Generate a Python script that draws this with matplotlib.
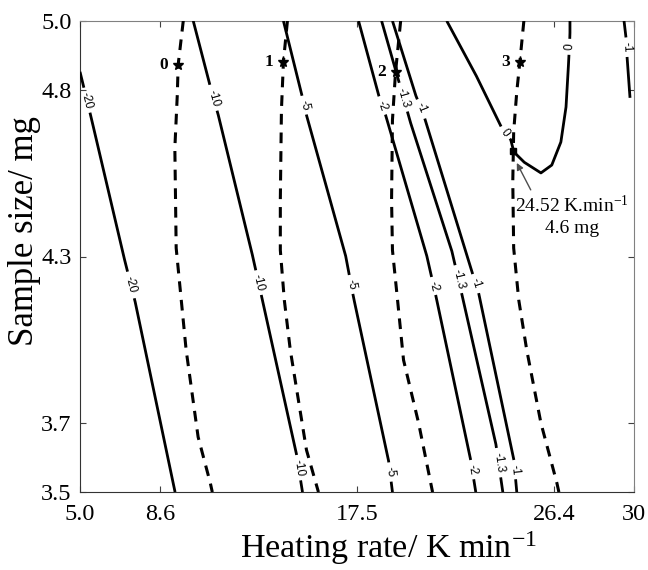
import numpy as np
import matplotlib
matplotlib.use("Agg")
import matplotlib.pyplot as plt

plt.rcParams['font.family'] = ['Liberation Serif', 'DejaVu Serif']
plt.rcParams['mathtext.fontset'] = 'custom'
plt.rcParams['mathtext.rm'] = 'Liberation Serif'
plt.rcParams['mathtext.it'] = 'Liberation Serif:italic'
plt.rcParams['mathtext.bf'] = 'Liberation Serif:bold'

# design: coded levels -alpha, -1, 0, 1, alpha
rate_ticks = [5.0, 8.6, 17.5, 26.4, 30.0]
rate_tick_labels = ['5.0', '8.6', '17.5', '26.4', '30']
size_center = 4.25
size_step = 0.55
size_alpha = 1.414
size_tick_labels = ['3.5', '3.7', '4.3', '4.8', '5.0']

# contour lines (heating rate K/min, sample size mg)
rate_m20 = [5.00, 5.50, 6.94, 7.49, 9.29]
size_m20 = [4.86, 4.71, 4.26, 4.10, 3.472]

rate_m10 = [10.11, 10.92, 11.24, 12.73, 13.18, 14.76, 15.04]
size_m10 = [5.028, 4.800, 4.717, 4.271, 4.123, 3.601, 3.472]

rate_m5 = [14.18, 14.99, 15.22, 16.98, 17.34, 18.92, 19.10]
size_m5 = [5.028, 4.790, 4.717, 4.255, 4.116, 3.578, 3.472]

rate_m2 = [17.57, 18.47, 18.79, 20.64, 21.05, 22.63, 22.86]
size_m2 = [5.028, 4.784, 4.717, 4.255, 4.123, 3.578, 3.472]

rate_m13 = [18.61, 19.47, 19.92, 21.77, 22.22, 23.76, 24.08]
size_m13 = [5.028, 4.807, 4.691, 4.271, 4.129, 3.634, 3.472]

rate_m1 = [19.10, 20.14, 20.51, 22.45, 22.99, 24.58, 24.71]
size_m1 = [5.028, 4.784, 4.717, 4.255, 4.129, 3.578, 3.472]

rate_zero = [21.55, 22.86, 24.03, 24.44, 24.58, 25.03, 25.80, 26.29, 26.70, 26.93, 27.02, 27.11, 27.11]
size_zero = [5.028, 4.850, 4.675, 4.635, 4.595, 4.562, 4.526, 4.552, 4.628, 4.741, 4.850, 4.982, 5.028]

rate_m1b = [29.55, 29.64, 29.68, 29.82]
size_m1b = [5.028, 4.972, 4.916, 4.774]

# dashed contours 0..3
rate_d0 = [9.66, 9.43, 9.39, 9.28, 9.34, 9.79, 10.33, 10.88, 10.97]
size_d0 = [5.028, 4.883, 4.783, 4.608, 4.278, 3.941, 3.654, 3.502, 3.472]

rate_d1 = [14.36, 14.18, 14.09, 14.04, 14.04, 14.22, 14.49, 15.22, 15.76]
size_d1 = [5.028, 4.893, 4.734, 4.437, 4.271, 4.106, 3.941, 3.611, 3.472]

rate_d2 = [19.47, 19.24, 19.10, 19.06, 19.10, 19.33, 19.60, 20.28, 20.91]
size_d2 = [5.028, 4.860, 4.701, 4.437, 4.271, 4.106, 3.908, 3.700, 3.472]

rate_d3 = [25.03, 24.85, 24.71, 24.57, 24.53, 24.57, 24.80, 25.16, 25.80, 26.52, 26.61]
size_d3 = [5.028, 4.893, 4.794, 4.662, 4.497, 4.278, 4.106, 3.941, 3.700, 3.502, 3.472]

star_rate = [9.43, 14.18, 19.24, 24.85]
star_size = [4.883, 4.893, 4.860, 4.893]
star_names = ['0', '1', '2', '3']

opt_rate = 24.52
opt_size = 4.6

fig = plt.figure(figsize=(6.48, 5.70), dpi=100)
ax = fig.add_axes([80 / 648, 1 - 492 / 570, 554 / 648, 471 / 570])
size_lo = size_center - size_alpha * size_step
size_hi = size_center + size_alpha * size_step
ax.set_xlim(rate_ticks[0], rate_ticks[-1])
ax.set_ylim(size_lo, size_hi)
renderer = fig.canvas.get_renderer()


def draw_contour(xs, ys, text, spots):
    xs = np.asarray(xs, float)
    ys = np.asarray(ys, float)
    dx, dy = [], []
    for i in range(len(xs) - 1):
        t = np.linspace(0, 1, 40, endpoint=False)
        dx.append(xs[i] + t * (xs[i + 1] - xs[i]))
        dy.append(ys[i] + t * (ys[i + 1] - ys[i]))
    dx.append([xs[-1]])
    dy.append([ys[-1]])
    dx = np.concatenate(dx)
    dy = np.concatenate(dy)
    pts = ax.transData.transform(np.column_stack([dx, dy]))
    s = np.concatenate([[0], np.cumsum(np.hypot(*np.diff(pts, axis=0).T))])
    keep = np.ones(len(s), bool)
    for lx, ly in spots:
        p = ax.transData.transform((lx, ly))
        k = np.argmin(np.hypot(pts[:, 0] - p[0], pts[:, 1] - p[1]))
        k0, k1 = max(k - 6, 0), min(k + 6, len(pts) - 1)
        d = pts[k1] - pts[k0]
        ang = np.degrees(np.arctan2(d[1], d[0]))
        if ang > 90:
            ang -= 180
        if ang < -90:
            ang += 180
        lab = ax.text(dx[k], dy[k], text, ha='center', va='center',
                      fontsize=8.5, family='Liberation Sans',
                      rotation_mode='anchor', zorder=5)
        w = lab.get_window_extent(renderer).width
        lab.set_rotation(ang)
        keep &= np.abs(s - s[k]) > w / 2 + 4
    ax.plot(np.where(keep, dx, np.nan), np.where(keep, dy, np.nan),
            color='black', lw=2.0, solid_capstyle='butt', zorder=3)


draw_contour(rate_m20, size_m20, '-20', [(5.3, 4.767), (7.3, 4.156)])
draw_contour(rate_m10, size_m10, '-10', [(11.06, 4.774), (13.00, 4.162), (14.86, 3.554)])
draw_contour(rate_m5, size_m5, '-5', [(15.08, 4.750), (17.12, 4.156), (18.92, 3.538)])
draw_contour(rate_m2, size_m2, '-2', [(18.56, 4.747), (20.78, 4.149), (22.63, 3.545)])
draw_contour(rate_m13, size_m13, '-1.3', [(19.60, 4.774), (21.95, 4.172), (23.81, 3.567)])
draw_contour(rate_m1, size_m1, '-1', [(20.37, 4.740), (22.86, 4.162), (24.58, 3.545)])
draw_contour(rate_zero, size_zero, '0', [(24.12, 4.655), (27.11, 4.942)])
draw_contour(rate_m1b, size_m1b, '-1', [(29.68, 4.942)])

for xs, ys in [(rate_d0, size_d0), (rate_d1, size_d1), (rate_d2, size_d2), (rate_d3, size_d3)]:
    ax.plot(xs, ys, color='black', lw=2.2, ls=(0, (3.5, 2.6)), zorder=3)

ax.plot(star_rate, star_size, '*', color='black', ms=8, zorder=6)
for r, sz, name in zip(star_rate, star_size, star_names):
    ax.annotate(name, (r, sz), xytext=(-7, 0), textcoords='offset points',
                ha='right', va='center', fontsize=12.5, fontweight='bold', zorder=6)

ax.plot([opt_rate], [opt_size], 's', color='black', ms=5, zorder=6)
ax.annotate('', xy=(24.71, 4.559), xytext=(25.34, 4.470),
            arrowprops=dict(arrowstyle='-|>', color='0.3', lw=1.0,
                            mutation_scale=10, shrinkA=0, shrinkB=0), zorder=6)
ax.text(27.2, 4.385, '%.2f K.min$^{-1}$\n%.1f mg' % (opt_rate, opt_size),
        ha='center', va='center', multialignment='center', fontsize=14,
        linespacing=1.3, zorder=6)

ax.set_xticks(rate_ticks)
ax.set_xticklabels(rate_tick_labels)
size_ticks = size_center + size_step * np.array([-size_alpha, -1, 0, 1, size_alpha])
ax.set_yticks(size_ticks)
ax.set_yticklabels(size_tick_labels)
ax.tick_params(direction='in', top=True, right=True, length=4, width=0.8,
               labelsize=17.5, colors='0.25', labelcolor='black')
ax.tick_params(axis='x', pad=9)
ax.tick_params(axis='y', pad=6)
for side in ['top', 'right']:
    ax.spines[side].set_color('0.5')
for side in ['left', 'bottom']:
    ax.spines[side].set_color('0.2')

ax.set_xlabel('Heating rate/ K min$^{-1}$', fontsize=24.5)
ax.xaxis.set_label_coords(0.557, -0.12)
ax.xaxis.label.set_va('center')
ax.set_ylabel('Sample size/ mg', fontsize=25)
ax.yaxis.set_label_coords(-0.101, 0.553)
ax.yaxis.label.set_va('center')

fig.savefig('out.png', dpi=100)
